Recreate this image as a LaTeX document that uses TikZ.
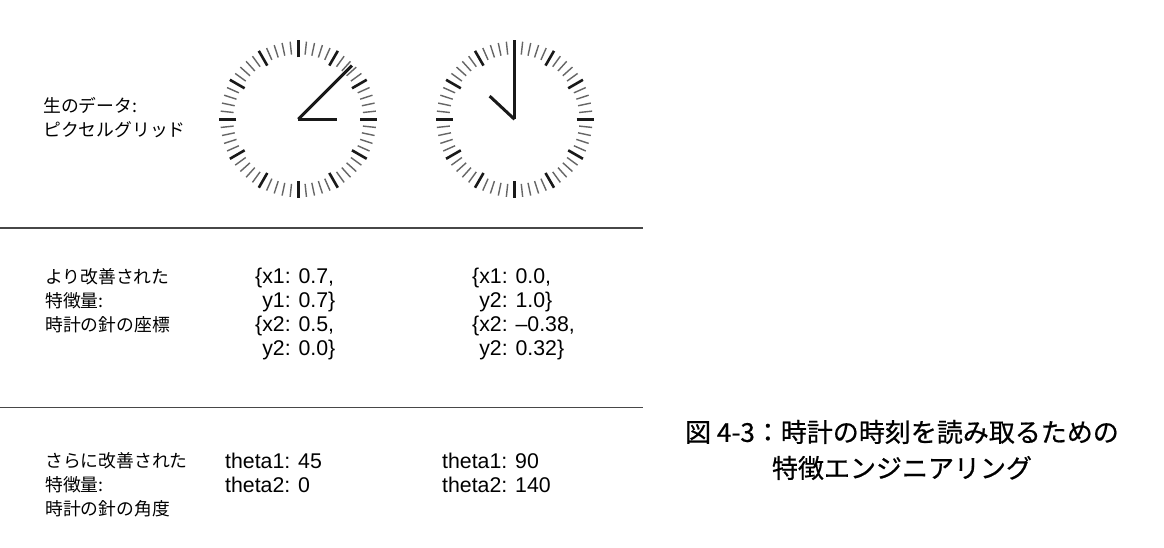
\documentclass[tikz,border=0pt]{standalone}
\usepackage{fontspec}
\setmainfont{Liberation Sans}
\newfontfamily\jp{Noto Sans CJK JP}
\newfontfamily\jpcap[FakeBold=0.6]{Noto Sans CJK JP}
\usetikzlibrary{calc}
\begin{document}
\begin{tikzpicture}[x=1pt,y=1pt,
  sep/.style={line width=1.8pt,draw=black!72},
  hourtick/.style={line width=2.6pt,draw=black!90},
  mintick/.style={line width=1.4pt,draw=black!60},
  hand/.style={line width=3pt,draw=black!90},
  jlabel/.style={inner sep=0pt,anchor=west,align=left,font=\jp\fontsize{17.8}{24}\selectfont},
  vals/.style={inner sep=0pt,anchor=west,align=left,font=\fontsize{21.3}{24}\selectfont},
  caption/.style={inner sep=0pt,align=center,font=\jpcap\fontsize{26}{36}\selectfont}]
\useasboundingbox (0,0) rectangle (1164,548);
\fill[white] (0,0) rectangle (1164,548);

% separators
\coordinate (l1a) at (0,320);
\coordinate (l1b) at (643,320);
\coordinate (l2a) at (0,140.5);
\coordinate (l2b) at (643,140.5);
\draw[sep] (l1a) -- (l1b);
\draw[sep] (l2a) -- (l2b);

% clocks
\coordinate (c1) at (298.3,428.7);
\coordinate (c2) at (514.5,428.7);
\foreach \c in {c1,c2}{
  \foreach \i in {0,...,59}{
    \pgfmathtruncatemacro\m{mod(\i,5)}
    \ifnum\m=0
      \draw[hourtick] ($(\c)+(\i*6:62)$) -- ($(\c)+(\i*6:79)$);
    \else
      \draw[mintick] ($(\c)+(\i*6:65)$) -- ($(\c)+(\i*6:78)$);
    \fi
  }
}
\draw[hand] (c1) -- ++(45:76);
\draw[hand] (c1) -- ++(0:39);
\draw[hand] (c2) -- ++(90:78);
\draw[hand] (c2) -- ++(137:34);

% row 1
\node[jlabel] (r1) at (43,430.5) {生のデータ:\\ピクセルグリッド};

% row 2
\node[jlabel] (r2) at (45,247.5) {より改善された\\特徴量:\\時計の針の座標};
\node[vals] (v2a) at (255,234) {\{x1: 0.7,\\\hphantom{\{}y1: 0.7\}\\\{x2: 0.5,\\\hphantom{\{}y2: 0.0\}};
\node[vals] (v2b) at (472,234) {\{x1: 0.0,\\\hphantom{\{}y2: 1.0\}\\\{x2: –0.38,\\\hphantom{\{}y2: 0.32\}};

% row 3
\node[jlabel] (r3) at (45,63) {さらに改善された\\特徴量:\\時計の針の角度};
\node[vals] (v3a) at (225,75) {theta1: 45\\theta2: 0};
\node[vals] (v3b) at (442,75) {theta1: 90\\theta2: 140};

% caption
\node[caption] (cap) at (902,98) {図 4-3：時計の時刻を読み取るための\\特徴エンジニアリング};
\end{tikzpicture}
\end{document}
